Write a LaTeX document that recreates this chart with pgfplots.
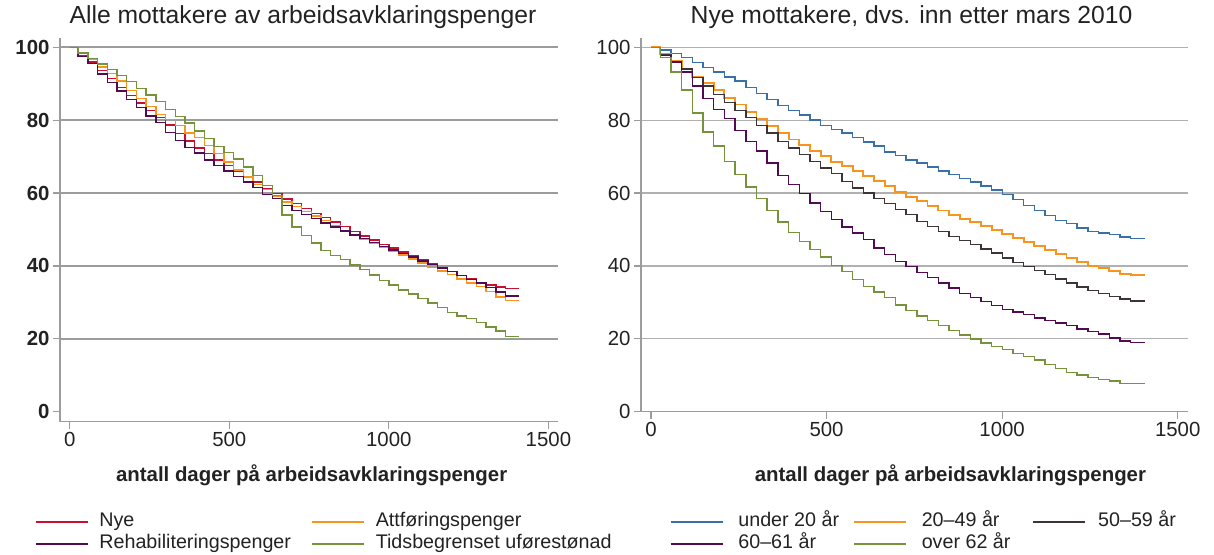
\documentclass[border=0pt]{standalone}
\usepackage{fontspec}
\setmainfont{Liberation Sans}
\usepackage{pgfplots}
\usepackage{pgfplotstable}
\pgfplotsset{compat=1.18}

\definecolor{cRed}{HTML}{C8102E}
\definecolor{cOrange}{HTML}{F7941D}
\definecolor{cPurple}{HTML}{520A52}
\definecolor{cGreen}{HTML}{76933C}
\definecolor{cBlue}{HTML}{3A70A8}
\definecolor{cDark}{HTML}{3D3535}
\definecolor{cGrid}{HTML}{9C9C9C}
\definecolor{cText}{HTML}{222222}

% left panel: all recipients
\pgfplotstableread{
t nye att reh tid
0 100 100 100 100
26.4 97.8 98.4 97.5 98.4
56.9 96.0 96.6 95.5 97.0
87.3 93.6 94.6 92.7 95.4
117.8 91.4 92.8 90.4 93.9
148.2 89.0 90.8 88.0 92.3
178.6 86.8 88.2 85.7 90.6
209.1 84.7 85.9 83.5 88.7
239.5 82.7 83.8 81.2 86.9
270.0 80.7 81.6 79.4 85.1
300.4 78.7 80.2 76.6 82.9
330.8 76.3 78.6 74.5 81.0
361.3 74.3 76.5 72.5 79.2
391.7 72.4 75.2 71.0 77.0
422.2 70.8 73.0 69.1 75.0
452.6 69.1 70.9 67.5 72.8
483.0 67.6 68.5 66.0 71.1
513.5 66.0 66.3 64.5 69.4
543.9 64.3 64.4 63.0 67.1
574.4 63.0 62.3 61.5 64.8
604.8 61.3 61.0 59.6 62.1
635.2 59.9 59.0 58.5 59.4
665.7 58.4 57.6 56.6 54.0
696.1 57.1 56.3 55.2 50.7
726.6 55.8 55.0 54.1 48.4
757.0 54.4 53.7 53.0 46.3
787.4 53.3 52.4 51.8 44.3
817.9 52.1 51.1 50.7 42.8
848.3 50.8 49.8 49.6 41.7
878.8 49.5 48.6 48.5 40.3
909.2 48.2 47.3 47.5 39.0
939.6 47.1 46.1 46.4 37.5
970.1 45.9 45.0 45.4 36.0
1000.5 44.9 44.0 44.4 34.8
1031.0 43.8 43.0 43.4 33.4
1061.4 42.7 41.9 42.4 32.3
1091.8 41.7 40.8 41.4 31.0
1122.3 40.5 39.6 40.4 29.8
1152.7 39.6 38.6 39.4 28.6
1183.2 38.5 37.6 38.4 27.3
1213.6 37.4 36.4 37.3 26.3
1244.0 36.5 35.3 36.2 25.5
1274.5 35.5 34.3 35.3 24.4
1304.9 34.8 33.0 34.1 23.3
1335.4 34.2 31.5 32.9 22.1
1365.8 33.8 30.6 31.7 20.6
1408 33.8 30.6 31.7 20.6
}\leftdata

% right panel: new recipients by age
\pgfplotstableread{
t u20 a2049 a5059 a6061 o62
0 100 100 100 100 100
26.4 99.3 98.1 98.1 97.8 97.2
56.9 98.3 96.2 96.1 96.0 93.2
87.3 97.2 94.0 94.0 93.2 88.3
117.8 95.8 91.9 91.7 89.4 82.0
148.2 94.4 90.1 89.4 86.0 76.8
178.6 93.2 88.3 87.1 83.0 72.9
209.1 91.9 86.2 84.8 80.4 68.7
239.5 90.7 84.3 82.7 77.2 65.1
270.0 88.9 82.3 80.7 74.2 61.7
300.4 87.3 80.4 78.6 71.5 58.5
330.8 85.7 78.4 76.5 68.3 55.2
361.3 84.1 76.5 74.2 64.8 52.1
391.7 82.7 74.7 72.4 62.3 49.2
422.2 81.4 73.1 70.6 59.8 46.7
452.6 80.0 71.5 68.7 57.3 44.5
483.0 78.6 70.1 66.9 55.0 42.4
513.5 77.5 68.6 65.3 52.7 40.1
543.9 76.5 67.4 63.2 50.7 38.5
574.4 75.3 66.0 61.4 49.0 36.2
604.8 74.0 64.6 60.0 47.2 34.4
635.2 72.9 63.2 58.5 44.9 32.8
665.7 71.3 61.9 57.1 43.1 31.3
696.1 70.3 60.3 55.5 41.2 29.3
726.6 69.1 58.9 54.1 39.9 27.8
757.0 68.3 57.7 52.2 38.2 26.3
787.4 67.1 56.4 50.9 36.9 25.0
817.9 66.0 55.2 49.5 35.3 23.6
848.3 65.1 54.1 48.1 33.9 22.3
878.8 64.0 53.0 47.0 32.5 21.1
909.2 63.0 52.0 45.8 31.3 19.9
939.6 61.9 50.9 44.6 30.2 18.8
970.1 60.8 49.8 43.5 29.1 17.9
1000.5 59.6 48.8 42.2 28.1 17.0
1031.0 58.2 47.7 41.0 27.4 16.0
1061.4 56.6 46.6 39.9 26.6 15.1
1091.8 55.2 45.4 38.8 25.7 14.2
1122.3 53.8 44.3 37.6 25.0 13.0
1152.7 52.5 43.3 36.4 24.3 11.9
1183.2 51.6 42.2 35.3 23.6 10.7
1213.6 50.4 41.2 34.2 22.7 10.1
1244.0 49.5 40.1 33.3 22.0 9.4
1274.5 49.0 39.4 32.4 21.3 8.9
1304.9 48.6 38.5 31.6 20.2 8.4
1335.4 47.9 37.8 30.9 19.4 7.8
1365.8 47.6 37.4 30.4 19.0 7.8
1408 47.6 37.4 30.4 19.0 7.8
}\rightdata

\pgfplotsset{
  panel/.style={
    scale only axis,
    axis lines*=left,
    axis line style={-, draw=cGrid, line width=1.2pt},
    tick align=outside,
    major tick length=7pt,
    tick style={draw=cGrid, line width=1.2pt},
    xtick={0,500,1000,1500},
    ytick={20,40,60,80,100},
    extra y ticks={0},
    extra y tick style={grid=none},
    ymajorgrids=true,
    /pgf/number format/assume math mode=true,
    /pgf/number format/1000 sep={},
    ticklabel style={font=\fontsize{20.4}{24}\selectfont, text=cText},
    title style={anchor=center, font=\fontsize{24.7}{28}\selectfont, text=cText},
    xlabel style={anchor=center, font=\bfseries\fontsize{20.4}{24}\selectfont, text=cText},
    legend cell align=left,
    legend image code/.code={\draw[##1, line width=1.4pt] (0pt,0pt) -- (52pt,0pt);},
    legend style={anchor=north west, draw=none, fill=none, inner sep=0pt, outer sep=0pt,
      font=\fontsize{19.7}{21}\selectfont, text=cText, column sep=0pt, row sep=1pt,
      nodes={inner sep=0pt, text height=15pt, text depth=6pt}},
    every axis plot/.append style={const plot, no markers, line width=1.4pt},
  }
}

\begin{document}
\begin{tikzpicture}
\begin{axis}[panel,
  at={(60pt,132.3pt)}, anchor=south west,
  width=498.3pt, height=383.7pt,
  xmin=-30.4, xmax=1531, ymin=-2.74, ymax=102.55,
  grid style={draw=cGrid, line width=1.8pt},
  yticklabel style={font=\bfseries\fontsize{20.4}{24}\selectfont},
  title={Alle mottakere av arbeidsavklaringspenger},
  title style={at={(axis description cs:0.4877,1.0383)}},
  xlabel={antall dager på arbeidsavklaringspenger},
  xlabel style={at={(axis description cs:0.505,-0.139)}},
  legend columns=2,
  legend style={at={(axis description cs:-0.0502,-0.234)}},
]
\addplot[cRed] table[x=t, y=nye] {\leftdata};
\addlegendentry{\hspace*{11pt}\makebox[212pt][l]{Nye}}
\addplot[cOrange] table[x=t, y=att] {\leftdata};
\addlegendentry{\hspace*{11pt}Attføringspenger}
\addplot[cPurple] table[x=t, y=reh] {\leftdata};
\addlegendentry{\hspace*{11pt}\makebox[212pt][l]{Rehabiliteringspenger}}
\addplot[cGreen] table[x=t, y=tid] {\leftdata};
\addlegendentry{\hspace*{11pt}Tidsbegrenset uførestønad}
\end{axis}

\begin{axis}[panel,
  at={(641pt,142.3pt)}, anchor=south west,
  width=546.7pt, height=373.7pt,
  xmin=-28.5, xmax=1528.5, ymin=0, ymax=102.55,
  grid style={draw=cGrid!80, line width=1.3pt},
  title={Nye mottakere, dvs. inn etter mars 2010},
  title style={at={(axis description cs:0.4948,1.0393)}},
  xlabel={antall dager på arbeidsavklaringspenger},
  xlabel style={at={(axis description cs:0.566,-0.1694)}},
  legend columns=3,
  legend style={at={(axis description cs:0.053,-0.267)}},
]
\addplot[cBlue] table[x=t, y=u20] {\rightdata};
\addlegendentry{\hspace*{15pt}\makebox[115pt][l]{under 20 år}}
\addplot[cOrange, line width=1.9pt] table[x=t, y=a2049] {\rightdata};
\addlegendentry{\hspace*{15pt}\makebox[111pt][l]{20–49 år}}
\addplot[cDark] table[x=t, y=a5059] {\rightdata};
\addlegendentry{\hspace*{12pt}50–59 år}
\addplot[cPurple] table[x=t, y=a6061] {\rightdata};
\addlegendentry{\hspace*{15pt}\makebox[115pt][l]{60–61 år}}
\addplot[cGreen] table[x=t, y=o62] {\rightdata};
\addlegendentry{\hspace*{15pt}\makebox[111pt][l]{over 62 år}}
\end{axis}
\pgfresetboundingbox
\useasboundingbox (0,0) rectangle (1214pt,554pt);
\end{tikzpicture}
\end{document}
